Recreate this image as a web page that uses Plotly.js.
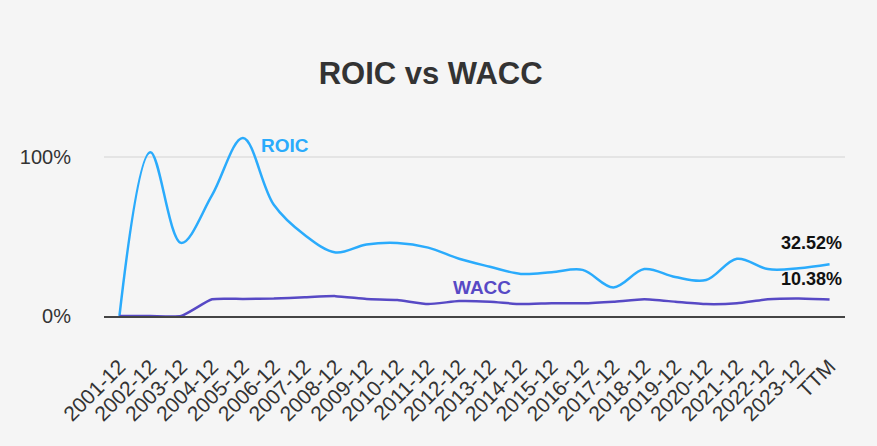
<!DOCTYPE html>
<html>
<head>
<meta charset="utf-8">
<script src="https://cdn.plot.ly/plotly-3.0.1.min.js"></script>
<style>html,body{margin:0;padding:0;background:#f5f5f5;}#chart{width:877px;height:446px;}</style>
</head>
<body>
<div id="chart"></div>
<script>
const categories = ["2001-12","2002-12","2003-12","2004-12","2005-12","2006-12","2007-12","2008-12","2009-12","2010-12","2011-12","2012-12","2013-12","2014-12","2015-12","2016-12","2017-12","2018-12","2019-12","2020-12","2021-12","2022-12","2023-12","TTM"];
const roic = [0, 103, 46, 76, 112, 70, 51, 40, 45, 46, 43, 36, 31, 26.5, 27.5, 29, 18, 29.5, 24.5, 22.6, 36, 29.5, 30, 32.52];
const wacc = [0, 0, 0, 10.5, 10.7, 11, 11.8, 12.5, 10.7, 10, 7.5, 9.4, 9, 7.5, 8, 8, 9, 10.5, 9, 7.5, 8, 10.5, 11, 10.38];
const yTickVals = [0, 100];
const yTickText = ["0%", "100%"];
const roicColor = "#2aabfc";
const waccColor = "#5749c5";

const traces = [
  {x: categories, y: roic, type: "scatter", mode: "lines", name: "ROIC",
   line: {color: roicColor, width: 2.5, shape: "spline", smoothing: 1}, hoverinfo: "skip"},
  {x: categories, y: wacc, type: "scatter", mode: "lines", name: "WACC",
   line: {color: waccColor, width: 2.5, shape: "spline", smoothing: 0.5}, hoverinfo: "skip"}
];

const last = categories.length - 1;
const font = "Liberation Sans, Arial, sans-serif";
const layout = {
  width: 877, height: 446,
  paper_bgcolor: "#f5f5f5", plot_bgcolor: "#f5f5f5",
  margin: {l: 104, r: 32, t: 120, b: 130},
  showlegend: false,
  title: {text: "<b>ROIC vs WACC</b>", x: 0.491, xanchor: "center", y: 0.835, yanchor: "middle",
          font: {family: font, size: 31, color: "#333333"}},
  xaxis: {type: "category", range: [-0.5, last + 0.5], tickangle: -45,
          showgrid: false, zeroline: false, showline: true, linecolor: "#444444", linewidth: 2,
          ticks: "", ticklabelstandoff: 28,
          tickfont: {family: font, size: 21, color: "#333333"}},
  yaxis: {range: [0, 123.3], tickvals: yTickVals, ticktext: yTickText, showgrid: true,
          gridcolor: "#e4e4e4", gridwidth: 2, zeroline: false, showline: false, ticks: "",
          ticklabelstandoff: 32,
          tickfont: {family: font, size: 20, color: "#333333"}},
  annotations: [
    {x: categories[4], y: roic[4], xref: "x", yref: "y", text: "<b>ROIC</b>", showarrow: false,
     xshift: 42, yshift: -8, font: {family: font, size: 19, color: roicColor}},
    {x: categories[12], y: wacc[12], xref: "x", yref: "y", text: "<b>WACC</b>", showarrow: false,
     xshift: -8, yshift: 14, font: {family: font, size: 19, color: waccColor}},
    {x: categories[last], y: roic[last], xref: "x", yref: "y", text: "<b>" + roic[last].toFixed(2) + "%</b>", showarrow: false,
     xshift: -18, yshift: 21, font: {family: font, size: 18, color: "#111111"}},
    {x: categories[last], y: wacc[last], xref: "x", yref: "y", text: "<b>" + wacc[last].toFixed(2) + "%</b>", showarrow: false,
     xshift: -18, yshift: 21, font: {family: font, size: 18, color: "#111111"}}
  ]
};

Plotly.newPlot("chart", traces, layout, {staticPlot: true, displayModeBar: false});
</script>
</body>
</html>
